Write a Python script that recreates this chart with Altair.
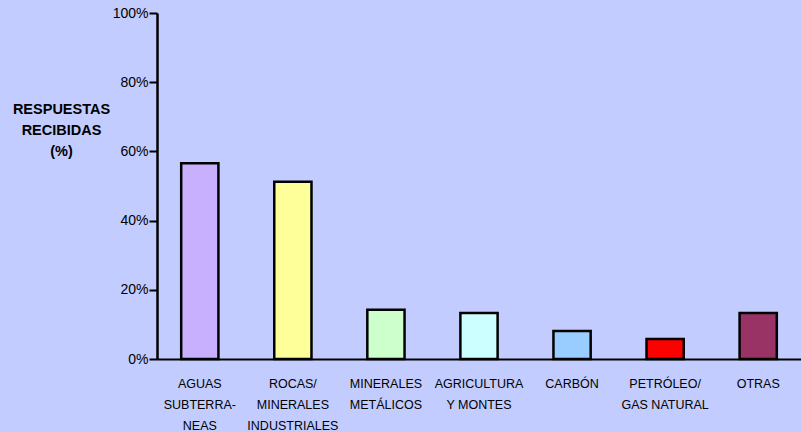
import altair as alt
import pandas as pd

categories = ["AGUAS|SUBTERRA-|NEAS", "ROCAS/|MINERALES|INDUSTRIALES", "MINERALES|METÁLICOS",
              "AGRICULTURA|Y MONTES", "CARBÓN", "PETRÓLEO/|GAS NATURAL", "OTRAS"]
values = [56.6, 51.2, 14.2, 13.3, 8.1, 5.8, 13.3]
colors = ["#C9B0FF", "#FFFF99", "#CCFFCC", "#CCFFFF", "#99CCFF", "#FF0000", "#993366"]
y_ticks = [0, 20, 40, 60, 80, 100]

df = pd.DataFrame({"cat": categories, "val": values, "col": colors})

bg = "#C2CCFF"

chart = alt.Chart(df).mark_bar(stroke="black", strokeWidth=2.5).encode(
    x=alt.X("cat:N", sort=categories,
            scale=alt.Scale(paddingInner=0.6, paddingOuter=0.26),
            axis=alt.Axis(title=None, labelAngle=0, labelExpr="split(datum.label, '|')",
                          labelFont="Liberation Sans", labelFontSize=12.5, labelColor="black",
                          labelLineHeight=21, labelBaseline="middle", labelPadding=24,
                          ticks=False, domainColor="black", domainWidth=2, labelLimit=200)),
    y=alt.Y("val:Q", scale=alt.Scale(domain=[0, 100], nice=False),
            axis=alt.Axis(values=y_ticks, labelExpr="datum.value + '%'", grid=False,
                          labelFont="Liberation Sans", labelFontSize=14, labelColor="black",
                          tickColor="black", tickWidth=2, tickSize=8, labelPadding=1,
                          domainColor="black", domainWidth=2.5,
                          title=["RESPUESTAS", "RECIBIDAS", "(%)"], titleAngle=0,
                          titleFont="Liberation Sans", titleFontSize=14.5, titleFontWeight="bold",
                          titleColor="black", titleAlign="center", titleBaseline="top",
                          titleX=-96, titleY=89, titleLineHeight=21)),
    fill=alt.Fill("col:N", scale=None),
).properties(
    width=644, height=346, background=bg,
    autosize=alt.AutoSizeParams(type="none"),
    padding={"left": 157, "top": 13, "right": 0, "bottom": 73},
).configure_view(stroke=None)

chart.save("out.html", embed_options={"renderer": "svg", "actions": False})
